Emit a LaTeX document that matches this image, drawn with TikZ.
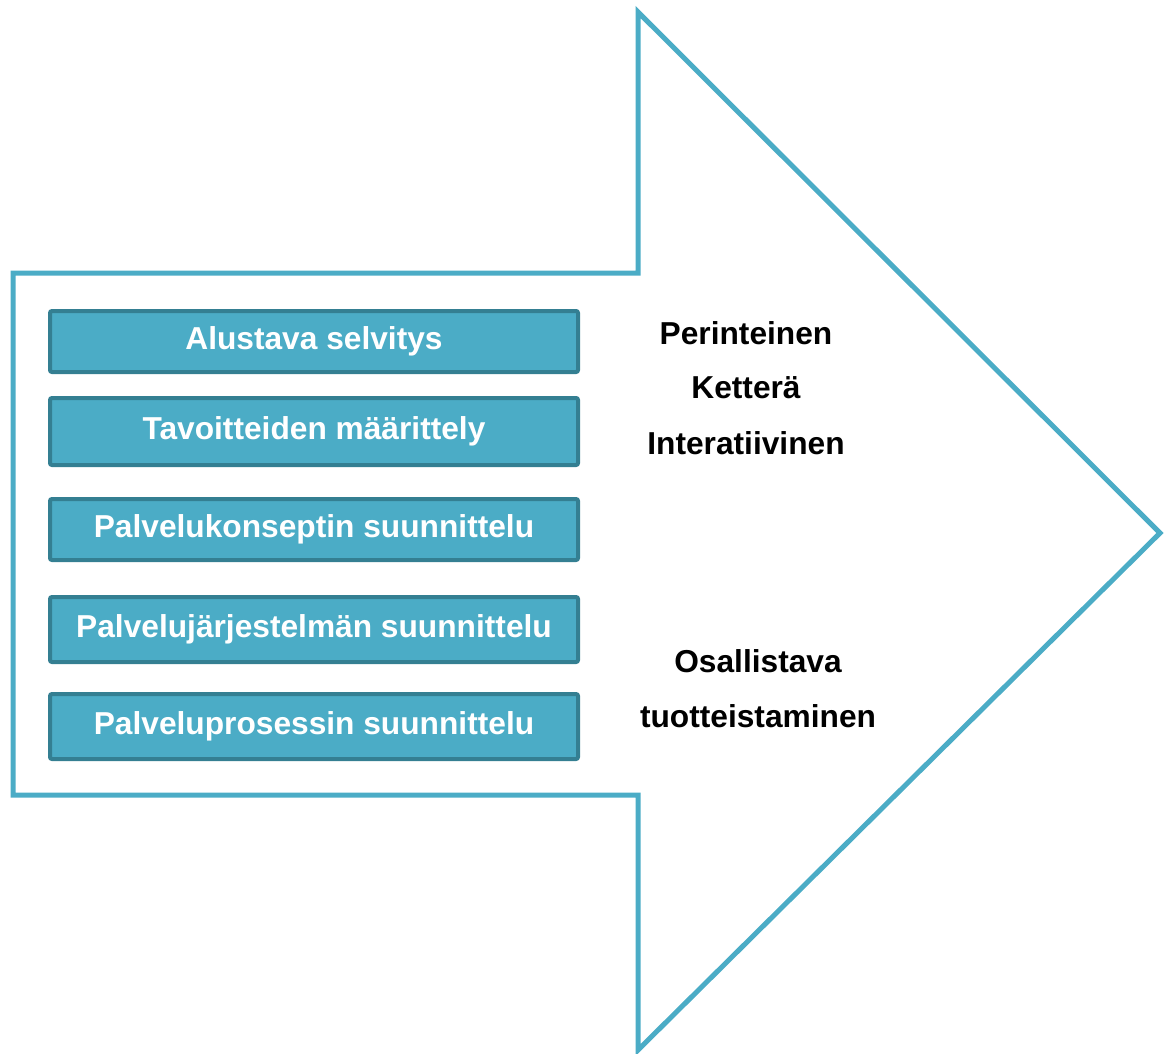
\documentclass[tikz,border=0pt]{standalone}
\usepackage{fontspec}
\setmainfont{Liberation Sans}
\usepackage{tikz}
\definecolor{arrowblue}{HTML}{4BACC6}
\definecolor{boxedge}{HTML}{347F92}
\tikzset{
	phasebox/.style={draw=boxedge,fill=arrowblue,line width=4pt,rounded corners=2pt,
		minimum width=528pt,inner sep=0pt,text=white,font=\fontsize{31.7}{38}\selectfont\bfseries},
	methodtext/.style={font=\fontsize{31.7}{38}\selectfont\bfseries,text=black}
}
\begin{document}
\begin{tikzpicture}[x=1pt,y=-1pt]
		\useasboundingbox(0,0) rectangle (1170,1054);
		\draw[arrowblue,line width=5pt,line join=miter](13,273) -- (638,273) -- (638,12) -- (1160,533) -- (638,1050) -- (638,795) -- (13,795) -- cycle;
		\node[phasebox,minimum height=61pt](alustava) at (314,341.5) {Alustava selvitys};
		\node[phasebox,minimum height=67pt](tavoitteet) at (314,431.5) {Tavoitteiden määrittely};
		\node[phasebox,minimum height=61pt](konsepti) at (314,529.5) {Palvelukonseptin suunnittelu};
		\node[phasebox,minimum height=65pt](jarjestelma) at (314,629.5) {Palvelujärjestelmän suunnittelu};
		\node[phasebox,minimum height=65pt](prosessi) at (314,726.5) {Palveluprosessin suunnittelu};
		\node[methodtext](perinteinen) at (746,333) {Perinteinen};
		\node[methodtext](ketteraa) at (746,388) {Ketterä};
		\node[methodtext](iteratiivinen) at (746,443) {Interatiivinen};
		\node[methodtext](osallistava) at (758,661) {Osallistava};
		\node[methodtext](tuotteistaminen) at (758,716) {tuotteistaminen};
		\end{tikzpicture}
\end{document}
